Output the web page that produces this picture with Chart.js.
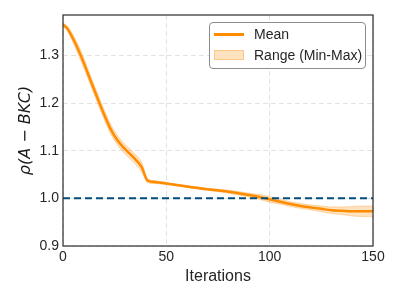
<!DOCTYPE html>
<html>
<head>
<meta charset="utf-8">
<script src="https://cdn.jsdelivr.net/npm/chart.js"></script>
<style>
  body { margin: 0; background: #fff; }
  #wrap { position: relative; width: 400px; height: 300px; }
  #legend {
    position: absolute; left: 209px; top: 22px; width: 155px; height: 45px;
    border: 1px solid #8c8c8c; border-radius: 4px; background: rgba(255,255,255,0.85);
    font-family: "Liberation Sans", Arial, sans-serif; font-size: 14px; color: #262626;
  }
  .item { position: absolute; left: 0; height: 18px; line-height: 18px; }
  .swatch-line { position: absolute; left: 4px; top: 8px; width: 30px; height: 2.5px; background: #ff8c00; }
  .swatch-box { position: absolute; left: 4px; top: 4px; width: 30px; height: 10px; background: rgba(255,140,0,0.25); border: 0.5px solid rgba(255,140,0,0.3); box-sizing: border-box; }
  .label { position: absolute; left: 44px; top: 0; white-space: nowrap; }
</style>
</head>
<body>
<div id="wrap">
  <canvas id="chart" width="400" height="300"></canvas>
  <div id="legend">
    <div class="item" style="top: 2px;"><span class="swatch-line"></span><span class="label">Mean</span></div>
    <div class="item" style="top: 23px;"><span class="swatch-box"></span><span class="label">Range (Min-Max)</span></div>
  </div>
</div>
<script>
// Iterations and values
const iterations = [0, 2, 5, 8, 11, 14, 17, 20, 23, 26, 29, 32, 35, 38, 41, 45, 50, 60, 70, 80, 90, 95, 100, 105, 110, 115, 120, 125, 130, 135, 140, 145, 150];
const meanValues = [1.365, 1.357, 1.334, 1.306, 1.274, 1.240, 1.207, 1.175, 1.146, 1.124, 1.108, 1.095, 1.082, 1.066, 1.037, 1.034, 1.031, 1.025, 1.019, 1.014, 1.007, 1.003, 0.998, 0.993, 0.988, 0.984, 0.981, 0.978, 0.975, 0.974, 0.973, 0.973, 0.973];
const minValues = [1.362, 1.352, 1.326, 1.296, 1.264, 1.230, 1.197, 1.165, 1.136, 1.114, 1.098, 1.085, 1.072, 1.056, 1.033, 1.031, 1.029, 1.023, 1.017, 1.011, 1.003, 0.998, 0.992, 0.988, 0.983, 0.979, 0.976, 0.972, 0.968, 0.966, 0.963, 0.962, 0.962];
const maxValues = [1.368, 1.362, 1.342, 1.316, 1.284, 1.250, 1.217, 1.185, 1.156, 1.134, 1.118, 1.105, 1.092, 1.076, 1.041, 1.037, 1.033, 1.027, 1.021, 1.017, 1.011, 1.008, 1.004, 0.998, 0.993, 0.989, 0.986, 0.984, 0.982, 0.982, 0.983, 0.984, 0.984];

// Reference line at rho = 1
const refX = [0, 150];
const refY = [1.0, 1.0];

const xTicks = [0, 50, 100, 150];
const yTicks = [0.9, 1.0, 1.1, 1.2, 1.3];

const toPoints = (xs, ys) => xs.map((x, i) => ({ x: x, y: ys[i] }));

// Draw the full box around the plot area
const frame = {
  id: "frame",
  afterDraw(chart) {
    const { ctx, chartArea: a } = chart;
    ctx.save();
    ctx.strokeStyle = "#333333";
    ctx.lineWidth = 1.25;
    ctx.strokeRect(a.left, a.top, a.right - a.left, a.bottom - a.top);
    ctx.restore();
  },
};

const tickFont = { family: "'Liberation Sans', Arial, sans-serif", size: 14 };

new Chart(document.getElementById("chart"), {
  type: "line",
  data: {
    datasets: [
      {
        label: "min",
        data: toPoints(iterations, minValues),
        borderColor: "rgba(255,140,0,0.3)",
        borderWidth: 1,
        backgroundColor: "rgba(255,140,0,0.25)",
        pointRadius: 0,
        cubicInterpolationMode: "monotone",
        fill: false,
        order: 3,
      },
      {
        label: "Range (Min-Max)",
        data: toPoints(iterations, maxValues),
        borderColor: "rgba(255,140,0,0.3)",
        borderWidth: 1,
        backgroundColor: "rgba(255,140,0,0.25)",
        pointRadius: 0,
        cubicInterpolationMode: "monotone",
        fill: "-1",
        order: 2,
      },
      {
        label: "Mean",
        data: toPoints(iterations, meanValues),
        borderColor: "#ff8c00",
        borderWidth: 2.5,
        pointRadius: 0,
        cubicInterpolationMode: "monotone",
        fill: false,
        order: 1,
      },
      {
        label: "ref",
        data: toPoints(refX, refY),
        borderColor: "#004c7a",
        borderWidth: 2,
        borderDash: [7, 4],
        pointRadius: 0,
        fill: false,
        order: 0,
      },
    ],
  },
  options: {
    responsive: false,
    animation: false,
    layout: { padding: { top: 15, right: 27, left: 0, bottom: 0 } },
    plugins: {
      legend: { display: false },
      tooltip: { enabled: false },
    },
    scales: {
      x: {
        type: "linear",
        min: 0,
        max: 150,
        afterFit: (s) => { s.height = 54; },
        afterBuildTicks: (s) => { s.ticks = xTicks.map((v) => ({ value: v })); },
        ticks: { font: tickFont, color: "#262626", padding: 3, maxRotation: 0 },
        grid: { color: "#e2e2e2", lineWidth: 1, drawTicks: false },
        border: { display: false, dash: [5, 3] },
        title: {
          display: true,
          text: "Iterations",
          color: "#262626",
          font: { family: "'Liberation Sans', Arial, sans-serif", size: 16 },
          padding: { top: 0, bottom: 14 },
        },
      },
      y: {
        min: 0.9,
        max: 1.385,
        afterFit: (s) => { s.width = 63; },
        afterBuildTicks: (s) => { s.ticks = yTicks.map((v) => ({ value: v })); },
        ticks: {
          font: tickFont,
          color: "#262626",
          padding: 4,
          callback: (v) => Number(v).toFixed(1),
        },
        grid: { color: "#e2e2e2", lineWidth: 1, drawTicks: false },
        border: { display: false, dash: [5, 3] },
        title: {
          display: true,
          text: "ρ(A − BKC)",
          color: "#1a1a1a",
          font: { family: "'DejaVu Sans', sans-serif", size: 16, style: "italic" },
          padding: { top: 16, bottom: 0 },
        },
      },
    },
  },
  plugins: [frame],
});
</script>
</body>
</html>
